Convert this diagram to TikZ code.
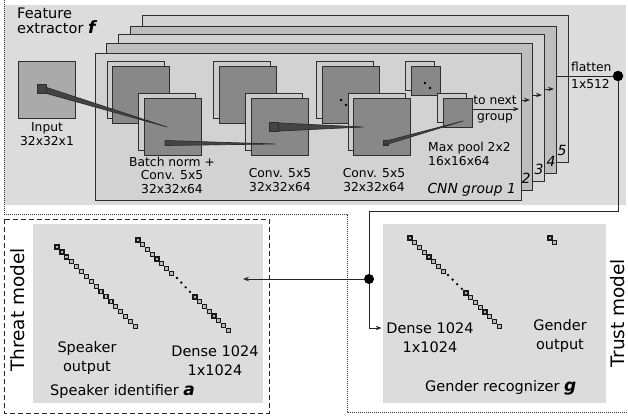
\documentclass[tikz,border=0pt]{standalone}
\usepackage{fontspec}
\setmainfont{DejaVu Sans}
\usetikzlibrary{arrows.meta}
\definecolor{panelgray}{HTML}{DCDCDC}
\definecolor{grpA}{HTML}{D2D2D2}
\definecolor{grpB}{HTML}{BEBEBE}
\definecolor{fmlight}{HTML}{CCCCCC}
\definecolor{fmdark}{HTML}{888888}
\definecolor{inputgray}{HTML}{AAAAAA}
\definecolor{linegray}{HTML}{2E2E2E}
\definecolor{wedgefill}{HTML}{444444}
\newcommand{\bigbi}[1]{{\fontsize{17}{17}\selectfont\bfseries\itshape #1}}
\begin{document}
\begin{tikzpicture}[x=1pt,y=-1pt,
  panel/.style={fill=panelgray, draw=none, inner sep=0pt, outer sep=0pt, anchor=north west},
  grpframe/.style={draw=linegray, line width=0.9pt, inner sep=0pt, outer sep=0pt, anchor=north west, minimum width=426pt, minimum height=147pt},
  fmL/.style={draw=linegray, fill=fmlight, line width=0.9pt, inner sep=0pt, outer sep=0pt, anchor=north west, minimum size=57pt},
  fmD/.style={fmL, fill=fmdark},
  pL/.style={fmL, minimum size=29pt},
  pD/.style={fmD, minimum size=29pt},
  wsq/.style={draw=linegray, fill=wedgefill, line width=0.7pt, inner sep=0pt, outer sep=0pt},
  wedgeshape/.style={fill=wedgefill, draw=linegray, line width=0.7pt, line join=round},
  lbl/.style={font=\fontsize{12.3}{13.5}\selectfont, align=center, inner sep=0pt},
  captxt/.style={font=\fontsize{14.5}{19}\selectfont, align=center, inner sep=0pt},
  bigtxt/.style={font=\fontsize{18.5}{20}\selectfont, inner sep=0pt},
  gnum/.style={font=\fontsize{14}{15}\selectfont\itshape, inner sep=0pt},
  tsq/.style={draw=black!90, fill=gray!55, line width=1.3pt, minimum size=4pt, inner sep=0pt, outer sep=0pt},
  tdot/.style={circle, fill=black, inner sep=0pt, minimum size=2.6pt},
  conn/.style={line width=0.9pt, draw=black!85},
  arr/.style={conn, -{Stealth[length=6pt,width=4.5pt]}}
]
\useasboundingbox (0,0) rectangle (628,419);

% panels
\node[panel, minimum width=622pt, minimum height=200pt] (fep) at (4,5) {};
\node[panel, minimum width=230pt, minimum height=179pt] (spp) at (33,224) {};
\node[panel, minimum width=223pt, minimum height=179pt] (gep) at (383,224) {};

% borders
\draw[line width=0.8pt, dash pattern=on 1pt off 1pt, black!80] (4,0) -- (4,214) -- (347,214) -- (347,412) -- (628,412);
\draw[line width=0.9pt, dash pattern=on 5pt off 3pt, black!85] (4,219) rectangle (269,413);

% heading
\node[anchor=north west, align=left, inner sep=0pt, font=\fontsize{14.5}{15}\selectfont] (fe) at (17,8) {Feature\\extractor \bigbi{f}};

% input
\node[draw=linegray, fill=inputgray, line width=0.9pt, inner sep=0pt, anchor=north west, minimum size=57pt] (inp) at (18,61) {};
\node[lbl] (inpl) at (47,134) {Input\\32x32x1};

% CNN group frames (back to front)
\node[grpframe, fill=grpA] (g5) at (142,15) {};
\node[grpframe, fill=grpB] (g4) at (130,26) {};
\node[grpframe, fill=grpA] (g3) at (118,34) {};
\node[grpframe, fill=grpB] (g2) at (106,43) {};
\node[grpframe, fill=grpA] (g1) at (95,53) {};
\node[gnum] (n5) at (562,150) {5};
\node[gnum] (n4) at (551,161) {4};
\node[gnum] (n3) at (539,169) {3};
\node[gnum] (n2) at (526,178) {2};

% feature maps
\node[fmL] (c1bl) at (107,61) {}; \node[fmD] (c1bd) at (112,66) {};
\node[fmL] (c1fl) at (138,93) {}; \node[fmD] (c1fd) at (144,98) {};
\node[fmL] (c2bl) at (213,61) {}; \node[fmD] (c2bd) at (219,66) {};
\node[fmL] (c2fl) at (245,93) {}; \node[fmD] (c2fd) at (251,98) {};
\node[fmL] (c3bl) at (316,61) {}; \node[fmD] (c3bd) at (322,66) {};
\node[fmL] (c3fl) at (348,93) {}; \node[fmD] (c3fd) at (353,98) {};
\node[pL] (pbl) at (405,61) {}; \node[pD] (pbd) at (411,66) {};
\node[pL] (pfl) at (437,93) {}; \node[pD] (pfd) at (443,98) {};
\node[tdot] (d1) at (341,100) {}; \node[tdot] (d2) at (346,105) {};
\node[tdot] (d3) at (425,83) {}; \node[tdot] (d4) at (430,88) {};

% receptive-field wedges
\coordinate (a1) at (167,127);
\coordinate (a2) at (275,144);
\coordinate (a3) at (363,127);
\coordinate (a4) at (463,121);
\node[wsq, minimum size=9pt] (s1) at (42,89) {};
\node[wsq, minimum size=5pt] (s2) at (167.5,143) {};
\node[wsq, minimum size=9pt] (s3) at (274,127) {};
\node[wsq, minimum size=5pt] (s4) at (385.5,143) {};
\filldraw[wedgeshape] (s1.north west) -- (a1) -- (s1.south east) -- cycle;
\filldraw[wedgeshape] (s2.north west) -- (a2) -- (s2.south west) -- cycle;
\filldraw[wedgeshape] (s3.north west) -- (a3) -- (s3.south west) -- cycle;
\filldraw[wedgeshape] (s4.north east) -- (a4) -- (s4.south west) -- cycle;
\node[wsq, minimum size=9pt] (s1t) at (s1) {};
\node[wsq, minimum size=9pt] (s3t) at (s3) {};

% CNN labels
\node[lbl] (l1) at (172,175) {Batch norm +\\Conv. 5x5\\32x32x64};
\node[lbl] (l2) at (280,180) {Conv. 5x5\\32x32x64};
\node[lbl] (l3) at (374,180) {Conv. 5x5\\32x32x64};
\node[lbl, anchor=west, align=left] (l4) at (428,154) {Max pool 2x2\\16x16x64};
\node[font=\fontsize{13.8}{15}\selectfont\itshape, inner sep=0pt, anchor=east] (cg) at (516,190) {CNN group 1};
\node[lbl] (tn1) at (495,100) {to next};
\node[lbl] (tn2) at (495,118) {group};
\coordinate (tns) at (473,109);
\draw[arr, shorten >=2pt] (tns) -- (tns -| g1.east);

% inter-group arrows
\draw[arr, shorten >=2pt] (g1.east |- 0,100) -- (g2.east |- 0,100);
\draw[arr, shorten >=2pt] (g2.east |- 0,95) -- (g3.east |- 0,95);
\draw[arr, shorten >=2pt] (g3.east |- 0,89) -- (g4.east |- 0,89);

% flatten
\node[circle, fill=black, inner sep=0pt, minimum size=10.5pt] (fl) at (618,76) {};
\draw[conn] (g4.east |- fl) -- (fl);
\node[lbl, anchor=west] (flt) at (571,67) {flatten};
\node[lbl, anchor=west] (fls) at (571,84) {1x512};

% connectors to heads
\node[circle, fill=black, inner sep=0pt, minimum size=10pt] (jn) at (369,279) {};
\coordinate (bend) at (369,211);
\coordinate (spin) at (243,279);
\draw[conn] (fl) |- (bend) -- (jn);
\draw[arr] (jn) -- (spin);

% speaker identifier
\foreach \i in {0,...,16} \node[tsq] (so\i) at (57+\i*4.9, 247+\i*4.95) {};
\foreach \i in {0,...,7} \node[tsq] (sa\i) at (138+\i*4.75, 240+\i*4.75) {};
\foreach \i [count=\k] in {0,...,3} \node[tdot] (sd\k) at (177+\i*4.3, 278+\i*4.6) {};
\foreach \i in {0,...,7} \node[tsq] (sb\i) at (195+\i*4.75, 297+\i*4.75) {};
\node[captxt] (spo) at (87,357.5) {Speaker\\output};
\node[captxt] (spd) at (215,361) {Dense 1024\\1x1024};
\node[captxt, anchor=west] (spt) at (50,391) {Speaker identifier \bigbi{a}};
\node[bigtxt, rotate=90] (thr) at (18,310) {Threat model};

% gender recognizer
\foreach \i in {0,...,7} \node[tsq] (ga\i) at (410+\i*4.75, 238+\i*4.75) {};
\foreach \i [count=\k] in {0,...,3} \node[tdot] (gd\k) at (448+\i*4.6, 275+\i*4.6) {};
\foreach \i in {0,...,7} \node[tsq] (gb\i) at (466+\i*4.75, 293+\i*4.75) {};
\node[tsq] (go1) at (550,238) {};
\node[tsq] (go2) at (554.5,242.5) {};
\node[captxt] (gdl1) at (430,328) {Dense 1024};
\node[captxt] (gdl2) at (430,347) {1x1024};
\node[captxt] (gol) at (560,335.5) {Gender\\output};
\node[captxt, anchor=west] (grt) at (425,388) {Gender recognizer \bigbi{g}};
\node[bigtxt, rotate=90] (tru) at (618,313) {Trust model};
\draw[arr, shorten >=4.5pt] (jn) |- (gdl1.west);
\end{tikzpicture}
\end{document}
